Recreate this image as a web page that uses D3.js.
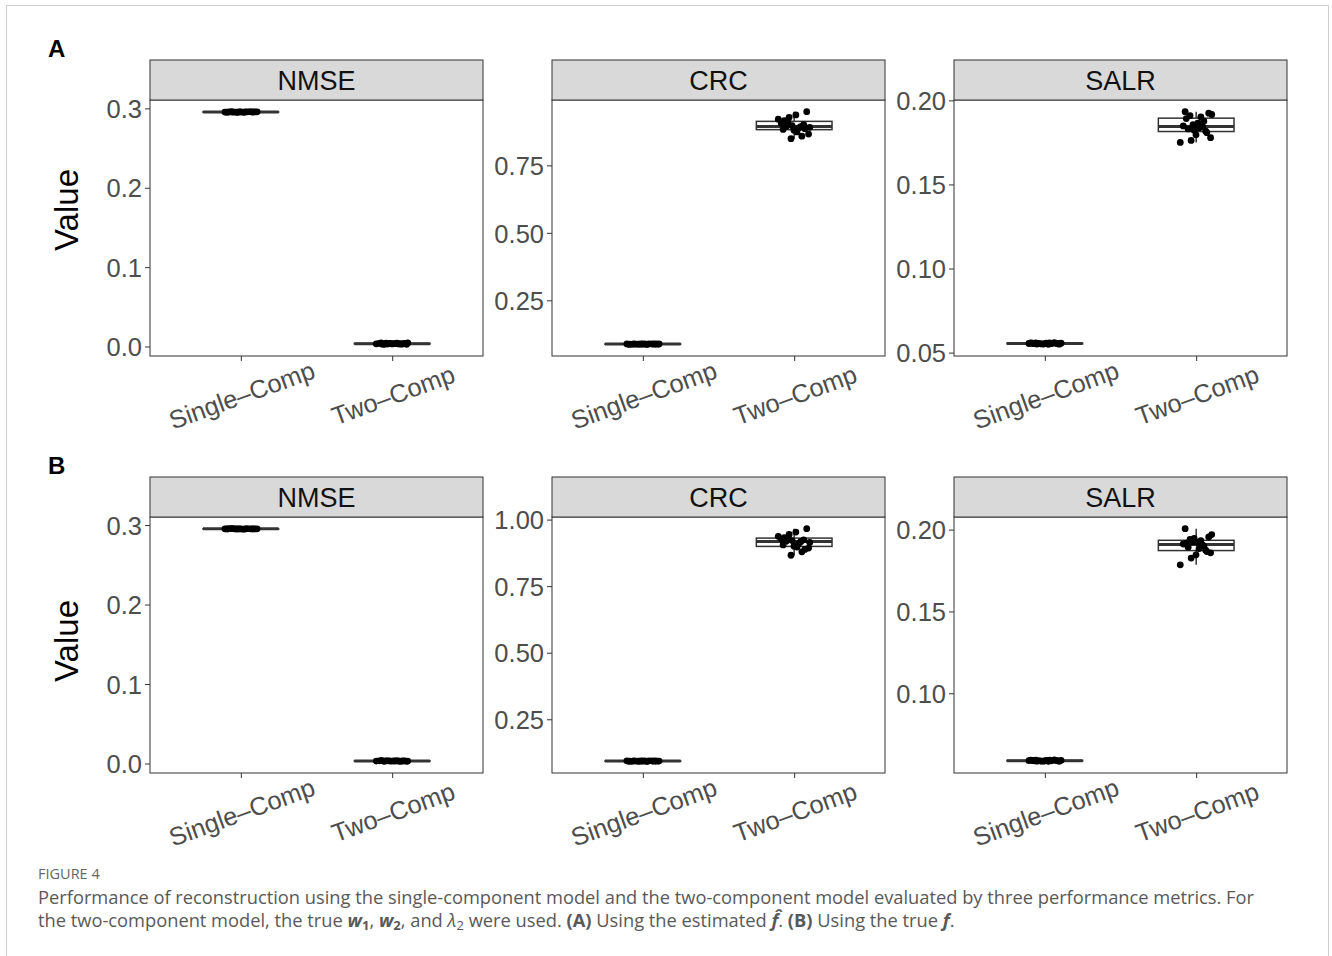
<!DOCTYPE html>
<html>
<head>
<meta charset="utf-8">
<script src="https://cdn.jsdelivr.net/npm/d3@7"></script>
<style>
  html, body { margin: 0; padding: 0; background: #fff; }
  svg { display: block; }
</style>
</head>
<body>
<svg id="fig" width="1332" height="956"></svg>
<script>
// ---- data: 20 replicate runs per model and metric ----
const metrics = ["NMSE", "CRC", "SALR"];
const groups = ["Single–Comp", "Two–Comp"];

// Row A: estimated f-hat
const nmseA_single = [0.2953,0.2956,0.2951,0.2958,0.2954,0.2955,0.2952,0.2957,0.2953,0.2956,0.2954,0.2955,0.2959,0.2951,0.2954,0.2956,0.2953,0.2955,0.2957,0.2954];
const nmseA_two    = [0.0032,0.0041,0.0028,0.0036,0.0045,0.0030,0.0038,0.0034,0.0042,0.0027,0.0039,0.0033,0.0040,0.0035,0.0031,0.0044,0.0037,0.0029,0.0036,0.0038];
const crcA_single  = [0.0875,0.0882,0.0869,0.0888,0.0878,0.0884,0.0872,0.0890,0.0880,0.0876,0.0886,0.0871,0.0883,0.0879,0.0887,0.0874,0.0881,0.0885,0.0877,0.0880];
const crcA_two     = [0.893,0.912,0.866,0.937,0.883,0.901,0.849,0.921,0.889,0.894,0.949,0.880,0.906,0.858,0.928,0.891,0.874,0.916,0.886,0.897];
const salrA_single = [0.0552,0.0556,0.0549,0.0558,0.0554,0.0551,0.0557,0.0553,0.0555,0.0550,0.0556,0.0553,0.0559,0.0552,0.0554,0.0557,0.0551,0.0555,0.0553,0.0556];
const salrA_two    = [0.1842,0.1909,0.1778,0.1864,0.1933,0.1817,0.1855,0.1750,0.1901,0.1830,0.1924,0.1795,0.1848,0.1876,0.1762,0.1916,0.1836,0.1892,0.1808,0.1823];

// Row B: true f
const nmseB_single = [0.2951,0.2953,0.2950,0.2954,0.2952,0.2953,0.2951,0.2955,0.2952,0.2953,0.2950,0.2954,0.2952,0.2951,0.2953,0.2952,0.2954,0.2951,0.2953,0.2952];
const nmseB_two    = [0.0030,0.0034,0.0027,0.0032,0.0036,0.0029,0.0033,0.0031,0.0035,0.0028,0.0032,0.0030,0.0034,0.0029,0.0033,0.0031,0.0030,0.0035,0.0032,0.0031];
const crcB_single  = [0.0925,0.0932,0.0920,0.0938,0.0928,0.0934,0.0922,0.0940,0.0930,0.0926,0.0936,0.0921,0.0933,0.0929,0.0937,0.0924,0.0931,0.0935,0.0927,0.0930];
const crcB_two     = [0.917,0.930,0.893,0.953,0.905,0.924,0.866,0.937,0.910,0.919,0.966,0.900,0.927,0.879,0.944,0.914,0.897,0.932,0.888,0.921];
const salrB_single = [0.0586,0.0590,0.0584,0.0592,0.0588,0.0585,0.0591,0.0587,0.0589,0.0584,0.0590,0.0587,0.0593,0.0586,0.0588,0.0591,0.0585,0.0589,0.0587,0.0590];
const salrB_two    = [0.1905,0.1940,0.1858,0.1922,0.2006,0.1874,0.1926,0.1785,0.1933,0.1893,0.1955,0.1846,0.1912,0.1899,0.1826,0.1970,0.1884,0.1918,0.1866,0.1946];

// axis breaks and labels per panel
const nmseTicks = [0, 0.1, 0.2, 0.3];
const nmseTickLabels = ["0.0", "0.1", "0.2", "0.3"];
const crcA_ticks = [0.25, 0.5, 0.75];
const crcA_tickLabels = ["0.25", "0.50", "0.75"];
const crcB_ticks = [0.25, 0.5, 0.75, 1.0];
const crcB_tickLabels = ["0.25", "0.50", "0.75", "1.00"];
const salrA_ticks = [0.05, 0.10, 0.15, 0.20];
const salrA_tickLabels = ["0.05", "0.10", "0.15", "0.20"];
const salrB_ticks = [0.10, 0.15, 0.20];
const salrB_tickLabels = ["0.10", "0.15", "0.20"];

const rowLabels = ["A", "B"];

// ---- panel table built from the arrays above ----
const rows = [
  [
    { metric: "NMSE", values: [nmseA_single, nmseA_two], ticks: nmseTicks, labels: nmseTickLabels },
    { metric: "CRC",  values: [crcA_single, crcA_two],   ticks: crcA_ticks, labels: crcA_tickLabels },
    { metric: "SALR", values: [salrA_single, salrA_two], ticks: salrA_ticks, labels: salrA_tickLabels }
  ],
  [
    { metric: "NMSE", values: [nmseB_single, nmseB_two], ticks: nmseTicks, labels: nmseTickLabels },
    { metric: "CRC",  values: [crcB_single, crcB_two],   ticks: crcB_ticks, labels: crcB_tickLabels },
    { metric: "SALR", values: [salrB_single, salrB_two], ticks: salrB_ticks, labels: salrB_tickLabels }
  ]
];

// ---- layout ----
const svg = d3.select("#fig");
const FONT = "'Liberation Sans', Arial, Helvetica, sans-serif";
const panelLefts = [150, 552, 954];
const panelW = 333;
const rowTops = [60, 477];     // top of strip
const stripH = 40;
const plotH = 256;
const valueTitleY = [210, 641];
const gridCol = "#333333";
const tickCol = "#4d4d4d";

// outer frame
svg.append("rect")
  .attr("x", 6.5).attr("y", 5.5).attr("width", 1322).attr("height", 960)
  .attr("fill", "none").attr("stroke", "#cfcfcf").attr("stroke-width", 1);

// deterministic horizontal spread for the jittered points (fraction of one category step)
const jitterFrac = i => (((i * 0.6180339887 + 0.37) % 1) - 0.5) * 0.22;

function boxStats(arr) {
  const s = arr.slice().sort(d3.ascending);
  const q1 = d3.quantile(s, 0.25), med = d3.quantile(s, 0.5), q3 = d3.quantile(s, 0.75);
  const iqr = q3 - q1;
  const lo = d3.min(s.filter(v => v >= q1 - 1.5 * iqr));
  const hi = d3.max(s.filter(v => v <= q3 + 1.5 * iqr));
  return { q1, med, q3, lo, hi };
}

rows.forEach((row, ri) => {
  const stripTop = rowTops[ri];
  const top = stripTop + stripH;
  const bottom = top + plotH;

  // row tag
  svg.append("text")
    .attr("x", 48).attr("y", stripTop - 3)
    .attr("font-family", FONT).attr("font-weight", "bold").attr("font-size", 24)
    .attr("fill", "#000").text(rowLabels[ri]);

  // y axis title
  svg.append("text")
    .attr("transform", `translate(78,${valueTitleY[ri]}) rotate(-90)`)
    .attr("text-anchor", "middle")
    .attr("font-family", FONT).attr("font-size", 33).attr("fill", "#000")
    .text("Value");

  row.forEach((p, ci) => {
    const left = panelLefts[ci], right = left + panelW;
    const all = p.values.flat();
    const [mn, mx] = d3.extent(all);
    const pad = (mx - mn) * 0.05;
    const y = d3.scaleLinear().domain([mn - pad, mx + pad]).range([bottom, top]);
    const x = d3.scalePoint().domain(groups).range([left, right]).padding(0.6);
    const step = x.step();
    const boxW = step * 0.5;

    const g = svg.append("g");

    // panel background
    g.append("rect").attr("x", left).attr("y", top).attr("width", panelW).attr("height", plotH)
      .attr("fill", "#fff");

    // boxplots
    p.values.forEach((vals, gi) => {
      const st = boxStats(vals);
      const cx = x(groups[gi]);
      g.append("line").attr("x1", cx).attr("x2", cx)
        .attr("y1", y(st.q3)).attr("y2", y(st.hi))
        .attr("stroke", gridCol).attr("stroke-width", 1.5);
      g.append("line").attr("x1", cx).attr("x2", cx)
        .attr("y1", y(st.q1)).attr("y2", y(st.lo))
        .attr("stroke", gridCol).attr("stroke-width", 1.5);
      g.append("rect")
        .attr("x", cx - boxW / 2).attr("width", boxW)
        .attr("y", y(st.q3)).attr("height", Math.max(0.01, y(st.q1) - y(st.q3)))
        .attr("fill", "#fff").attr("stroke", gridCol).attr("stroke-width", 1.5);
      g.append("line")
        .attr("x1", cx - boxW / 2).attr("x2", cx + boxW / 2)
        .attr("y1", y(st.med)).attr("y2", y(st.med))
        .attr("stroke", gridCol).attr("stroke-width", 3);
    });

    // jittered points
    p.values.forEach((vals, gi) => {
      const cx = x(groups[gi]);
      g.selectAll(null).data(vals).join("circle")
        .attr("cx", (d, i) => cx + jitterFrac(i + gi * 7) * step)
        .attr("cy", d => y(d))
        .attr("r", 3.4)
        .attr("fill", "#000");
    });

    // panel border
    g.append("rect").attr("x", left).attr("y", top).attr("width", panelW).attr("height", plotH)
      .attr("fill", "none").attr("stroke", gridCol).attr("stroke-width", 1);

    // strip
    g.append("rect").attr("x", left).attr("y", stripTop).attr("width", panelW).attr("height", stripH)
      .attr("fill", "#d9d9d9").attr("stroke", gridCol).attr("stroke-width", 1);
    g.append("text")
      .attr("x", left + panelW / 2).attr("y", stripTop + stripH / 2 + 9.5)
      .attr("text-anchor", "middle")
      .attr("font-family", FONT).attr("font-size", 27).attr("fill", "#111")
      .text(p.metric);

    // y axis
    const yAxis = d3.axisLeft(y).tickValues(p.ticks)
      .tickFormat((d, i) => p.labels[i]).tickSize(5).tickPadding(3);
    const ya = g.append("g").attr("transform", `translate(${left},0)`).call(yAxis);
    ya.select(".domain").remove();
    ya.selectAll("line").attr("stroke", gridCol).attr("stroke-width", 1);
    ya.selectAll("text").attr("font-family", FONT).attr("font-size", 25.5).attr("fill", tickCol)
      .attr("dy", "0.36em");

    // x axis
    const xAxis = d3.axisBottom(x).tickSize(5).tickFormat("");
    const xa = g.append("g").attr("transform", `translate(0,${bottom})`).call(xAxis);
    xa.select(".domain").remove();
    xa.selectAll("line").attr("stroke", gridCol).attr("stroke-width", 1);

    groups.forEach(gr => {
      g.append("text")
        .attr("transform", `translate(${x(gr) + 1},${bottom + 39}) rotate(-20)`)
        .attr("text-anchor", "middle")
        .attr("dominant-baseline", "central")
        .attr("font-family", FONT).attr("font-size", 25.5).attr("fill", tickCol)
        .text(gr);
    });
  });
});

// ---- caption ----
const CAP = "'Open Sans', 'Noto Sans', sans-serif";
svg.append("text")
  .attr("x", 38).attr("y", 879)
  .attr("font-family", CAP).attr("font-size", 14.5).attr("fill", "#666")
  .text("FIGURE 4");

svg.append("text")
  .attr("x", 38).attr("y", 904)
  .attr("font-family", CAP).attr("font-size", 18.3).attr("fill", "#595959")
  .text("Performance of reconstruction using the single-component model and the two-component model evaluated by three performance metrics. For");

const line2 = svg.append("text")
  .attr("x", 38).attr("y", 927)
  .attr("font-family", CAP).attr("font-size", 18.3).attr("fill", "#595959");
const parts = [
  { t: "the two-component model, the true " },
  { t: "w", bi: true }, { t: "1", b: true, sub: true },
  { t: ", " },
  { t: "w", bi: true }, { t: "2", b: true, sub: true },
  { t: ", and " },
  { t: "λ", i: true }, { t: "2", sub: true },
  { t: " were used. " },
  { t: "(A)", b: true },
  { t: " Using the estimated " },
  { t: "f\u0302", bi: true },
  { t: ". " },
  { t: "(B)", b: true },
  { t: " Using the true " },
  { t: "f", bi: true },
  { t: "." }
];
parts.forEach(pt => {
  const ts = line2.append("tspan").text(pt.t);
  if (pt.bi || pt.b) ts.attr("font-weight", "bold");
  if (pt.bi || pt.i) ts.attr("font-style", "italic");
  if (pt.sub) ts.attr("font-size", 13).attr("baseline-shift", "-3");
});
</script>
</body>
</html>
